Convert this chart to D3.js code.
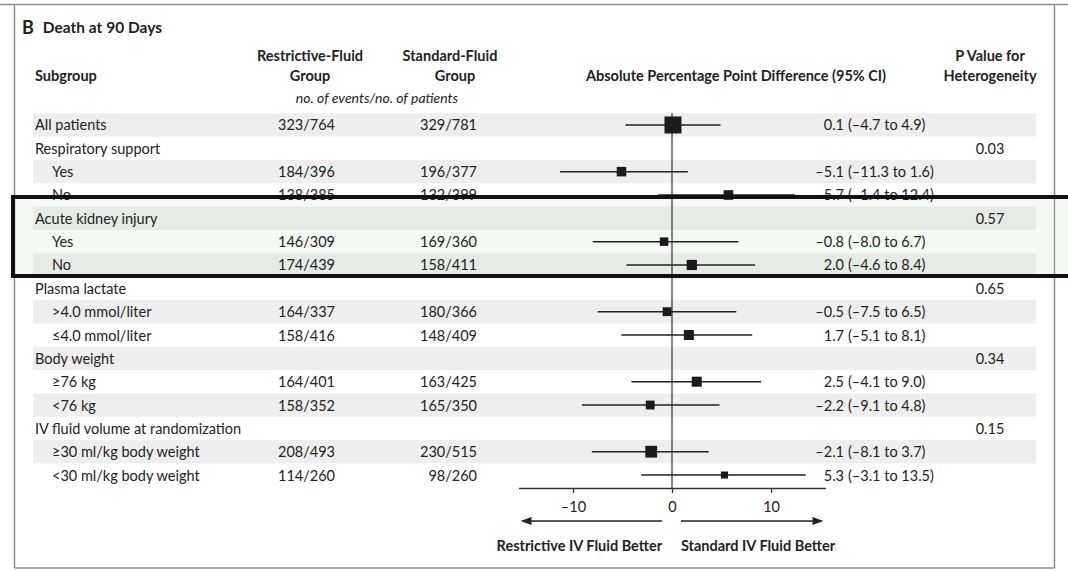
<!DOCTYPE html>
<html>
<head>
<meta charset="utf-8">
<script src="https://cdn.jsdelivr.net/npm/d3@7"></script>
<style>
  html, body { margin: 0; padding: 0; background: #fff; }
  svg { display: block; }
  text { font-family: Lato, "Open Sans", sans-serif; fill: #222; }
</style>
</head>
<body>
<svg id="chart" width="1068" height="571"></svg>
<script>
// Subgroup rows, top to bottom
const labels = [
  "All patients",
  "Respiratory support", "Yes", "No",
  "Acute kidney injury", "Yes", "No",
  "Plasma lactate", ">4.0 mmol/liter", "≤4.0 mmol/liter",
  "Body weight", "≥76 kg", "<76 kg",
  "IV fluid volume at randomization", "≥30 ml/kg body weight", "<30 ml/kg body weight"
];
// 1 = level inside a subgroup (indented), 0 = top level
const levels = [0, 0, 1, 1, 0, 1, 1, 0, 1, 1, 0, 1, 1, 0, 1, 1];
// events / patients, restrictive-fluid group
const restrictiveEvents   = [323, null, 184, 138, null, 146, 174, null, 164, 158, null, 164, 158, null, 208, 114];
const restrictivePatients = [764, null, 396, 385, null, 309, 439, null, 337, 416, null, 401, 352, null, 493, 260];
// events / patients, standard-fluid group
const standardEvents      = [329, null, 196, 132, null, 169, 158, null, 180, 148, null, 163, 165, null, 230, 98];
const standardPatients    = [781, null, 377, 399, null, 360, 411, null, 366, 409, null, 425, 350, null, 515, 260];
// absolute percentage point difference with 95% CI
const estimate = [0.1, null, -5.1, 5.7, null, -0.8, 2.0, null, -0.5, 1.7, null, 2.5, -2.2, null, -2.1, 5.3];
const lower    = [-4.7, null, -11.3, -1.4, null, -8.0, -4.6, null, -7.5, -5.1, null, -4.1, -9.1, null, -8.1, -3.1];
const upper    = [4.9, null, 1.6, 12.4, null, 6.7, 8.4, null, 6.5, 8.1, null, 9.0, 4.8, null, 3.7, 13.5];
// P value for heterogeneity, shown on subgroup header rows
const pValues  = [null, "0.03", null, null, "0.57", null, null, "0.65", null, null, "0.34", null, null, "0.15", null, null];
// axis ticks
const tickValues = [-10, 0, 10];
// first and last row of the framed subgroup
const highlightRows = [4, 6];

const rows = labels.map((label, i) => ({
  i, label, level: levels[i],
  rE: restrictiveEvents[i], rN: restrictivePatients[i],
  sE: standardEvents[i], sN: standardPatients[i],
  est: estimate[i], lo: lower[i], hi: upper[i], p: pValues[i]
}));

const fmt = v => (v < 0 ? "\u2013" : "") + Math.abs(v).toFixed(1);

const svg = d3.select("#chart");

const x = d3.scaleLinear().domain([-15.5, 15.5]).range([518.5, 825.5]);
const y = d3.scaleBand().domain(d3.range(rows.length)).range([113.3, 486.7]);
const yc = i => y(i) + y.bandwidth() / 2;
// marker side grows with the number of patients in the row
const side = d3.scaleLinear().domain([0, 1545]).range([2, 17]);

const tableLeft = 33, tableRight = 1036;
const colSub = 35, indent = 17;
const colRestr = 335, colStd = 477;
const colEstEnd = 844, colCiStart = 848;
const colP = 990;

// panel frame
const frame = svg.append("g").attr("stroke", "#8c8c8c").attr("stroke-width", 1.5).attr("fill", "none");
frame.append("line").attr("x1", 0).attr("x2", 1068).attr("y1", 4.5).attr("y2", 4.5);
frame.append("line").attr("x1", 14.5).attr("x2", 14.5).attr("y1", 4.5).attr("y2", 568);
frame.append("line").attr("x1", 1054.5).attr("x2", 1054.5).attr("y1", 4.5).attr("y2", 568);
frame.append("line").attr("x1", 14.5).attr("x2", 1054.5).attr("y1", 568).attr("y2", 568);

// alternating row shading
svg.append("g").selectAll("rect")
  .data(rows.filter(r => r.i % 2 === 0))
  .join("rect")
  .attr("x", tableLeft).attr("width", tableRight - tableLeft)
  .attr("y", d => y(d.i)).attr("height", y.bandwidth())
  .attr("fill", "#efeeef");

// highlighted subgroup: tint under the rows, frame drawn on top later
const hTop = yc(highlightRows[0] - 1) + 2;
const hBot = yc(highlightRows[1]) + 11;
svg.append("rect")
  .attr("x", 13).attr("y", hTop).attr("width", 1068).attr("height", hBot - hTop)
  .attr("fill", "rgba(200,230,195,0.22)");

// title
const title = svg.append("text").attr("x", 22).attr("y", 27).attr("dominant-baseline", "central")
  .style("font-weight", "bold");
title.append("tspan").text("B").style("font-size", "18px");
title.append("tspan").attr("dx", 9).text("Death at 90 Days").style("font-size", "15.5px");

// column headers
const hdr = svg.append("g").style("font-weight", "bold").style("font-size", "14.5px")
  .attr("dominant-baseline", "central");
hdr.append("text").attr("x", colSub).attr("y", 75).text("Subgroup");
hdr.append("text").attr("x", 310).attr("y", 55).attr("text-anchor", "middle").text("Restrictive-Fluid");
hdr.append("text").attr("x", 310).attr("y", 75).attr("text-anchor", "middle").text("Group");
hdr.append("text").attr("x", 450).attr("y", 55).attr("text-anchor", "middle").text("Standard-Fluid");
hdr.append("text").attr("x", 455).attr("y", 75).attr("text-anchor", "middle").text("Group");
hdr.append("text").attr("x", 736).attr("y", 75).attr("text-anchor", "middle").text("Absolute Percentage Point Difference (95% CI)");
hdr.append("text").attr("x", colP).attr("y", 55).attr("text-anchor", "middle").text("P Value for");
hdr.append("text").attr("x", colP).attr("y", 75).attr("text-anchor", "middle").text("Heterogeneity");
svg.append("text").attr("x", 377).attr("y", 97).attr("text-anchor", "middle").attr("dominant-baseline", "central")
  .style("font-style", "italic").style("font-size", "14px").text("no. of events/no. of patients");

// row text
const body = svg.append("g").style("font-size", "14.5px").attr("dominant-baseline", "central");
body.selectAll("text.sub").data(rows).join("text").attr("class", "sub")
  .attr("x", d => colSub + d.level * indent).attr("y", d => yc(d.i)).text(d => d.label);
body.selectAll("text.restr").data(rows.filter(d => d.rE != null)).join("text").attr("class", "restr")
  .attr("x", colRestr).attr("y", d => yc(d.i)).attr("text-anchor", "end").text(d => `${d.rE}/${d.rN}`);
body.selectAll("text.std").data(rows.filter(d => d.sE != null)).join("text").attr("class", "std")
  .attr("x", colStd).attr("y", d => yc(d.i)).attr("text-anchor", "end").text(d => `${d.sE}/${d.sN}`);
body.selectAll("text.est").data(rows.filter(d => d.est != null)).join("text").attr("class", "est")
  .attr("x", colEstEnd).attr("y", d => yc(d.i)).attr("text-anchor", "end").text(d => fmt(d.est));
body.selectAll("text.ci").data(rows.filter(d => d.est != null)).join("text").attr("class", "ci")
  .attr("x", colCiStart).attr("y", d => yc(d.i)).text(d => `(${fmt(d.lo)} to ${fmt(d.hi)})`);
body.selectAll("text.p").data(rows.filter(d => d.p != null)).join("text").attr("class", "p")
  .attr("x", colP).attr("y", d => yc(d.i)).attr("text-anchor", "middle").text(d => d.p);

// axis at the foot of the plot
const axisY = 488;
const axisG = svg.append("g").attr("transform", `translate(0,${axisY})`)
  .call(d3.axisBottom(x).tickValues(tickValues).tickSize(5).tickSizeOuter(0)
    .tickFormat(v => (v < 0 ? "\u2013" : "") + Math.abs(v)));
axisG.select(".domain").attr("stroke", "#333").attr("stroke-width", 1.3);
axisG.selectAll(".tick line").attr("stroke", "#333").attr("stroke-width", 1.3);
axisG.selectAll(".tick text").attr("y", 19).attr("dy", "0.32em")
  .style("font-family", "Lato, 'Open Sans', sans-serif").style("font-size", "14.5px").attr("fill", "#222");

// line of no difference
svg.append("line").attr("x1", x(0)).attr("x2", x(0)).attr("y1", y(0)).attr("y2", axisY)
  .attr("stroke", "#333").attr("stroke-width", 1.2);

// confidence intervals and point estimates
const marks = svg.append("g");
const withEst = rows.filter(d => d.est != null);
marks.selectAll("line.ci").data(withEst).join("line").attr("class", "ci")
  .attr("x1", d => x(d.lo)).attr("x2", d => x(d.hi))
  .attr("y1", d => yc(d.i)).attr("y2", d => yc(d.i))
  .attr("stroke", "#222").attr("stroke-width", 1.5);
marks.selectAll("rect.pt").data(withEst).join("rect").attr("class", "pt")
  .attr("x", d => x(d.est) - side(d.rN + d.sN) / 2)
  .attr("y", d => yc(d.i) - side(d.rN + d.sN) / 2)
  .attr("width", d => side(d.rN + d.sN)).attr("height", d => side(d.rN + d.sN))
  .attr("fill", "#1b1b1b");

// direction arrows and captions
const arrowY = 521;
const arrows = [
  { from: -1.0, to: -15.3 },
  { from: 0.9, to: 15.3 }
];
const ag = svg.append("g");
arrows.forEach(a => {
  const dir = Math.sign(a.to - a.from);
  const tip = x(a.to);
  ag.append("line").attr("x1", x(a.from)).attr("x2", tip - dir * 8).attr("y1", arrowY).attr("y2", arrowY)
    .attr("stroke", "#222").attr("stroke-width", 1.4);
  ag.append("path")
    .attr("d", `M${tip},${arrowY} L${tip - dir * 11},${arrowY - 4} L${tip - dir * 11},${arrowY + 4} Z`)
    .attr("fill", "#222");
});
const cap = svg.append("g").style("font-weight", "bold").style("font-size", "14.5px").attr("dominant-baseline", "central");
cap.append("text").attr("x", x(-1.0)).attr("y", 545).attr("text-anchor", "end").text("Restrictive IV Fluid Better");
cap.append("text").attr("x", x(0.9)).attr("y", 545).text("Standard IV Fluid Better");

// frame around the highlighted subgroup, over the rows
svg.append("rect")
  .attr("x", 13).attr("y", hTop).attr("width", 1068).attr("height", hBot - hTop)
  .attr("fill", "none").attr("stroke", "#111").attr("stroke-width", 4);
</script>
</body>
</html>
